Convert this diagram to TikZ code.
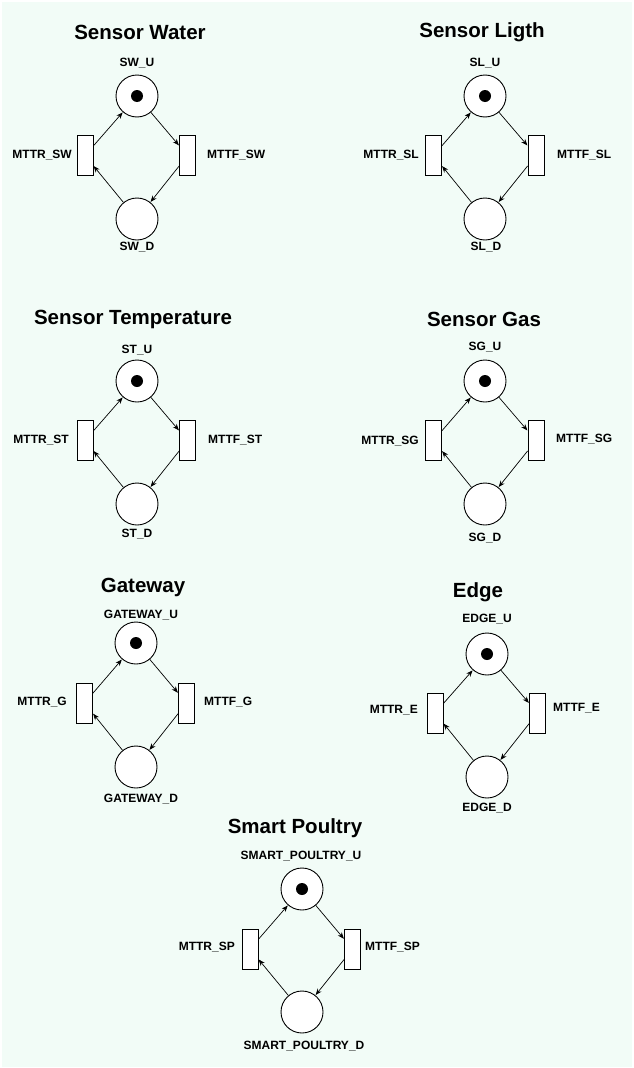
\documentclass[tikz,border=0pt]{standalone}
\usepackage{fontspec}
\setmainfont{Liberation Sans}
\usetikzlibrary{arrows.meta}
\definecolor{bgmint}{RGB}{242,252,247}
\tikzset{
  place/.style={circle,draw=black,fill=white,line width=0.9pt,minimum size=42pt,inner sep=0pt},
  trans/.style={rectangle,draw=black,fill=white,line width=0.8pt,minimum width=16pt,minimum height=40pt,inner sep=0pt},
  token/.style={circle,fill=black,minimum size=12pt,inner sep=0pt},
  ttl/.style={font=\bfseries\fontsize{20.5}{22}\selectfont,inner sep=0pt},
  lbl/.style={font=\bfseries\fontsize{12}{13}\selectfont,inner sep=0pt},
  arc/.style={draw=black,line width=0.7pt,-{Stealth[length=6.5pt,width=5pt]},shorten >=0.3pt}
}
\begin{document}
\begin{tikzpicture}[x=1pt,y=-1pt]
\useasboundingbox (0,0) rectangle (633,1068);
\fill[white] (0,0) rectangle (633,1068);
\fill[bgmint] (1.5,1.5) rectangle (631.5,1066.5);

% ---------- Sensor Water ----------
\node[ttl] (wT) at (140,32) {Sensor Water};
\node[place] (wU) at (137,96) {};
\node[token] (wK) at (wU) {};
\node[place] (wD) at (137,219) {};
\node[trans] (wR) at (85,155.5) {};
\node[trans] (wF) at (187.5,155.5) {};
\node[lbl] (wUl) at (137,63) {SW\_U};
\node[lbl] (wDl) at (137,247) {SW\_D};
\node[lbl,anchor=east] (wRl) at (72,155) {MTTR\_SW};
\node[lbl,anchor=west] (wFl) at (207,155) {MTTF\_SW};
\draw[arc] (wU) -- (wF);
\draw[arc] (wF) -- (wD);
\draw[arc] (wD) -- (wR);
\draw[arc] (wR) -- (wU);

% ---------- Sensor Ligth ----------
\node[ttl] (lT) at (482,32) {Sensor Ligth};
\node[place] (lU) at (485,96) {};
\node[token] (lK) at (lU) {};
\node[place] (lD) at (485,219) {};
\node[trans] (lR) at (433.5,155.5) {};
\node[trans] (lF) at (536,155.5) {};
\node[lbl] (lUl) at (485,63) {SL\_U};
\node[lbl] (lDl) at (486,247) {SL\_D};
\node[lbl,anchor=east] (lRl) at (419,155) {MTTR\_SL};
\node[lbl,anchor=west] (lFl) at (557,155) {MTTF\_SL};
\draw[arc] (lU) -- (lF);
\draw[arc] (lF) -- (lD);
\draw[arc] (lD) -- (lR);
\draw[arc] (lR) -- (lU);

% ---------- Sensor Temperature ----------
\node[ttl] (tT) at (133,319) {Sensor Temperature};
\node[place] (tU) at (137,381) {};
\node[token] (tK) at (tU) {};
\node[place] (tD) at (137,504) {};
\node[trans] (tR) at (85,440.5) {};
\node[trans] (tF) at (187.5,440.5) {};
\node[lbl] (tUl) at (137,350) {ST\_U};
\node[lbl] (tDl) at (137,534) {ST\_D};
\node[lbl,anchor=east] (tRl) at (69,440) {MTTR\_ST};
\node[lbl,anchor=west] (tFl) at (208,440) {MTTF\_ST};
\draw[arc] (tU) -- (tF);
\draw[arc] (tF) -- (tD);
\draw[arc] (tD) -- (tR);
\draw[arc] (tR) -- (tU);

% ---------- Sensor Gas ----------
\node[ttl] (gT) at (484,319) {Sensor Gas};
\node[place] (gU) at (485,381) {};
\node[token] (gK) at (gU) {};
\node[place] (gD) at (485,504) {};
\node[trans] (gR) at (433.5,440.5) {};
\node[trans] (gF) at (536,440.5) {};
\node[lbl] (gUl) at (485,347) {SG\_U};
\node[lbl] (gDl) at (485,538) {SG\_D};
\node[lbl,anchor=east] (gRl) at (419,441) {MTTR\_SG};
\node[lbl,anchor=west] (gFl) at (556,439) {MTTF\_SG};
\draw[arc] (gU) -- (gF);
\draw[arc] (gF) -- (gD);
\draw[arc] (gD) -- (gR);
\draw[arc] (gR) -- (gU);

% ---------- Gateway ----------
\node[ttl] (aT) at (143,587) {Gateway};
\node[place] (aU) at (136,643) {};
\node[token] (aK) at (aU) {};
\node[place] (aD) at (136,767) {};
\node[trans] (aR) at (84.5,703) {};
\node[trans] (aF) at (186.5,703) {};
\node[lbl] (aUl) at (141,615) {GATEWAY\_U};
\node[lbl] (aDl) at (141,799) {GATEWAY\_D};
\node[lbl,anchor=east] (aRl) at (67,702) {MTTR\_G};
\node[lbl,anchor=west] (aFl) at (204,702) {MTTF\_G};
\draw[arc] (aU) -- (aF);
\draw[arc] (aF) -- (aD);
\draw[arc] (aD) -- (aR);
\draw[arc] (aR) -- (aU);

% ---------- Edge ----------
\node[ttl] (eT) at (478,592) {Edge};
\node[place] (eU) at (487,654) {};
\node[token] (eK) at (eU) {};
\node[place] (eD) at (487,777) {};
\node[trans] (eR) at (435,713) {};
\node[trans] (eF) at (537.5,713) {};
\node[lbl] (eUl) at (487,619) {EDGE\_U};
\node[lbl] (eDl) at (487,808) {EDGE\_D};
\node[lbl,anchor=east] (eRl) at (418,710) {MTTR\_E};
\node[lbl,anchor=west] (eFl) at (553,708) {MTTF\_E};
\draw[arc] (eU) -- (eF);
\draw[arc] (eF) -- (eD);
\draw[arc] (eD) -- (eR);
\draw[arc] (eR) -- (eU);

% ---------- Smart Poultry ----------
\node[ttl] (pT) at (295,828) {Smart Poultry};
\node[place] (pU) at (302,889) {};
\node[token] (pK) at (pU) {};
\node[place] (pD) at (302,1012) {};
\node[trans] (pR) at (250,949) {};
\node[trans] (pF) at (352.5,949) {};
\node[lbl] (pUl) at (301,856) {SMART\_POULTRY\_U};
\node[lbl] (pDl) at (304,1046) {SMART\_POULTRY\_D};
\node[lbl,anchor=east] (pRl) at (235,947) {MTTR\_SP};
\node[lbl,anchor=west] (pFl) at (365,947) {MTTF\_SP};
\draw[arc] (pU) -- (pF);
\draw[arc] (pF) -- (pD);
\draw[arc] (pD) -- (pR);
\draw[arc] (pR) -- (pU);
\end{tikzpicture}
\end{document}
